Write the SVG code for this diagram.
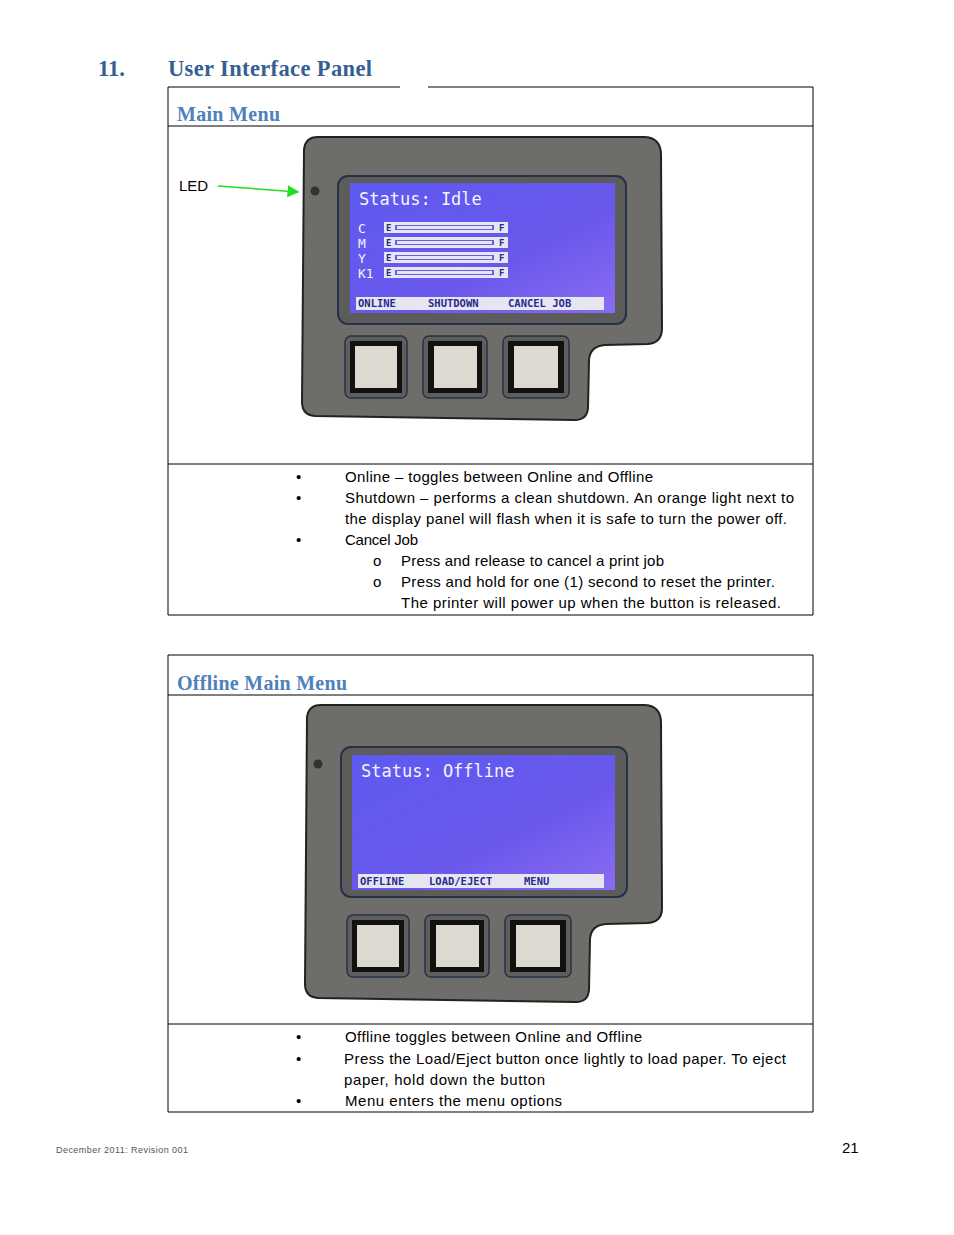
<svg xmlns="http://www.w3.org/2000/svg" width="954" height="1235" viewBox="0 0 954 1235">
<style>
.h{font-family:"Liberation Serif",serif;font-weight:bold;fill:#365f91;font-size:22.5px}
.s{font-family:"Liberation Serif",serif;font-weight:bold;fill:#4f81bd;font-size:20px}
.b{font-family:"Liberation Sans",sans-serif;font-size:15px;fill:#000}
.box{fill:none;stroke:#000;stroke-width:1}
.body{fill:#6e6d69;stroke:#222;stroke-width:2}
.bez{fill:#5c5c5a;stroke:#26304a;stroke-width:2}
.scr{fill:url(#g)}
.lcd{font-family:"DejaVu Sans Mono",monospace;fill:#f4f4ff;font-size:17px}
.cm{font-family:"DejaVu Sans Mono",monospace;fill:#f4f4ff;font-size:13px}
.ef{font-family:"DejaVu Sans Mono",monospace;font-weight:bold;fill:#2a2a90;font-size:9px}
.bar{fill:#e6e6f0}
.bt{font-family:"DejaVu Sans Mono",monospace;font-weight:bold;fill:#2a2a90;font-size:10.5px}
.bo{fill:#5e5e5c;stroke:#26304a;stroke-width:1.5}
.bi{fill:#111}
.bk{fill:#dcdad0}
</style>
<defs>
<linearGradient id="g" x1="0" y1="0" x2="1" y2="1">
<stop offset="0" stop-color="#5d5af0"/><stop offset="0.6" stop-color="#6a58ec"/><stop offset="1" stop-color="#8a6cf0"/>
</linearGradient>
<marker id="a" markerWidth="8" markerHeight="8" refX="7" refY="4" orient="auto"><path d="M0,0 L8,4 L0,8 Z" fill="#22dd22"/></marker>
</defs>
<rect width="954" height="1235" fill="#fff"/>
<text class="h" x="98" y="76">11.</text>
<text class="h" x="168" y="76" textLength="204">User Interface Panel</text>
<g id="box1">
<path class="box" d="M168,87 H400 M428,87 H813 V615 H168 V87 M168,126 H813 M168,464 H813"/>
<text class="s" x="177" y="121" textLength="103">Main Menu</text>
</g>
<g id="panel1">
<path class="body" d="M318,137 L645,137 Q661,138 661,155 L662,328 Q662,343 648,344 L605,345 Q590,346 589,360 L588,408 Q587,420 575,420 L315,416 Q302,415 302,402 L304,150 Q305,137 318,137 Z"/>
<circle cx="315" cy="191" r="4.5" fill="#333"/>
<rect class="bez" x="338" y="176" width="288" height="148" rx="10"/>
<rect class="scr" x="350" y="183" width="265" height="130"/>
<text class="lcd" x="359" y="205">Status: Idle</text>
<g class="cm"><text x="358" y="233">C</text><text x="358" y="248">M</text><text x="358" y="263">Y</text><text x="358" y="278">K1</text></g>
<g>
<rect class="bar" x="384" y="222" width="124" height="11"/><rect x="395" y="225" width="99" height="5" fill="#6a5cf0"/><rect class="bar" x="397" y="226" width="95" height="3"/>
<rect class="bar" x="384" y="237" width="124" height="11"/><rect x="395" y="240" width="99" height="5" fill="#6a5cf0"/><rect class="bar" x="397" y="241" width="95" height="3"/>
<rect class="bar" x="384" y="252" width="124" height="11"/><rect x="395" y="255" width="99" height="5" fill="#6a5cf0"/><rect class="bar" x="397" y="256" width="95" height="3"/>
<rect class="bar" x="384" y="267" width="124" height="11"/><rect x="395" y="270" width="99" height="5" fill="#6a5cf0"/><rect class="bar" x="397" y="271" width="95" height="3"/>
<g class="ef"><text x="386" y="231">E</text><text x="499" y="231">F</text><text x="386" y="246">E</text><text x="499" y="246">F</text><text x="386" y="261">E</text><text x="499" y="261">F</text><text x="386" y="276">E</text><text x="499" y="276">F</text></g>
</g>
<rect class="bar" x="356" y="297" width="248" height="13"/>
<text class="bt" x="358" y="307">ONLINE</text><text class="bt" x="428" y="307">SHUTDOWN</text><text class="bt" x="508" y="307">CANCEL JOB</text>
<rect class="bo" x="345" y="336" width="62" height="62" rx="6"/><rect class="bi" x="350" y="341" width="52" height="52"/><rect class="bk" x="355" y="346" width="42" height="42"/>
<rect class="bo" x="423" y="336" width="64" height="62" rx="6"/><rect class="bi" x="428" y="341" width="54" height="52"/><rect class="bk" x="434" y="346" width="43" height="42"/>
<rect class="bo" x="503" y="336" width="66" height="62" rx="6"/><rect class="bi" x="508" y="341" width="56" height="52"/><rect class="bk" x="514" y="346" width="44" height="42"/>
</g>
<g id="led"><text class="b" x="179" y="191">LED</text></g>
<g id="connectors"><line x1="218" y1="186" x2="298" y2="192" stroke="#22dd22" stroke-width="1.5" marker-end="url(#a)"/></g>
<g id="text1" class="b">
<text x="296" y="482">•</text><text x="345" y="482" textLength="308">Online – toggles between Online and Offline</text>
<text x="296" y="503">•</text><text x="345" y="503" textLength="449">Shutdown – performs a clean shutdown.  An orange light next to</text>
<text x="345" y="524" textLength="442">the display panel will flash when it is safe to turn the power off.</text>
<text x="296" y="545">•</text><text x="345" y="545" textLength="73">Cancel Job</text>
<text x="373" y="566">o</text><text x="401" y="566" textLength="263">Press and release to cancel a print job</text>
<text x="373" y="587">o</text><text x="401" y="587" textLength="374">Press and hold for one (1) second to reset the printer.</text>
<text x="401" y="608" textLength="380">The printer will power up when the button is released.</text>
</g>
<g id="box2">
<path class="box" d="M168,655 H813 V1112 H168 Z M168,695 H813 M168,1024 H813"/>
<text class="s" x="177" y="690" textLength="170">Offline Main Menu</text>
</g>
<g id="panel2">
<path class="body" d="M321,705 L645,705 Q661,706 661,723 L662,908 Q662,922 648,923 L606,924 Q591,925 590,939 L589,990 Q588,1002 576,1002 L318,998 Q305,997 305,984 L307,718 Q308,705 321,705 Z"/>
<circle cx="318" cy="764" r="4.5" fill="#333"/>
<rect class="bez" x="341" y="747" width="286" height="150" rx="10"/>
<rect class="scr" x="352" y="755" width="263" height="135"/>
<text class="lcd" x="361" y="777">Status: Offline</text>
<rect class="bar" x="358" y="874" width="246" height="14"/>
<text class="bt" x="360" y="885">OFFLINE</text><text class="bt" x="429" y="885">LOAD/EJECT</text><text class="bt" x="524" y="885">MENU</text>
<rect class="bo" x="347" y="915" width="62" height="62" rx="6"/><rect class="bi" x="352" y="920" width="52" height="52"/><rect class="bk" x="357" y="925" width="42" height="42"/>
<rect class="bo" x="425" y="915" width="64" height="62" rx="6"/><rect class="bi" x="430" y="920" width="54" height="52"/><rect class="bk" x="436" y="925" width="43" height="42"/>
<rect class="bo" x="505" y="915" width="66" height="62" rx="6"/><rect class="bi" x="510" y="920" width="56" height="52"/><rect class="bk" x="516" y="925" width="44" height="42"/>
</g>
<g id="text2" class="b">
<text x="296" y="1042">•</text><text x="345" y="1042" textLength="297">Offline toggles between Online and Offline</text>
<text x="296" y="1064">•</text><text x="344" y="1064" textLength="442">Press the Load/Eject button once lightly to load paper.  To eject</text>
<text x="344" y="1085" textLength="201">paper, hold down the button</text>
<text x="296" y="1106">•</text><text x="345" y="1106" textLength="217">Menu enters the menu options</text>
</g>
<text x="56" y="1153" font-family="Liberation Sans,sans-serif" font-size="9" fill="#555" textLength="132">December 2011: Revision 001</text>
<text x="842" y="1153" font-family="Liberation Sans,sans-serif" font-size="15" fill="#000">21</text>
</svg>
